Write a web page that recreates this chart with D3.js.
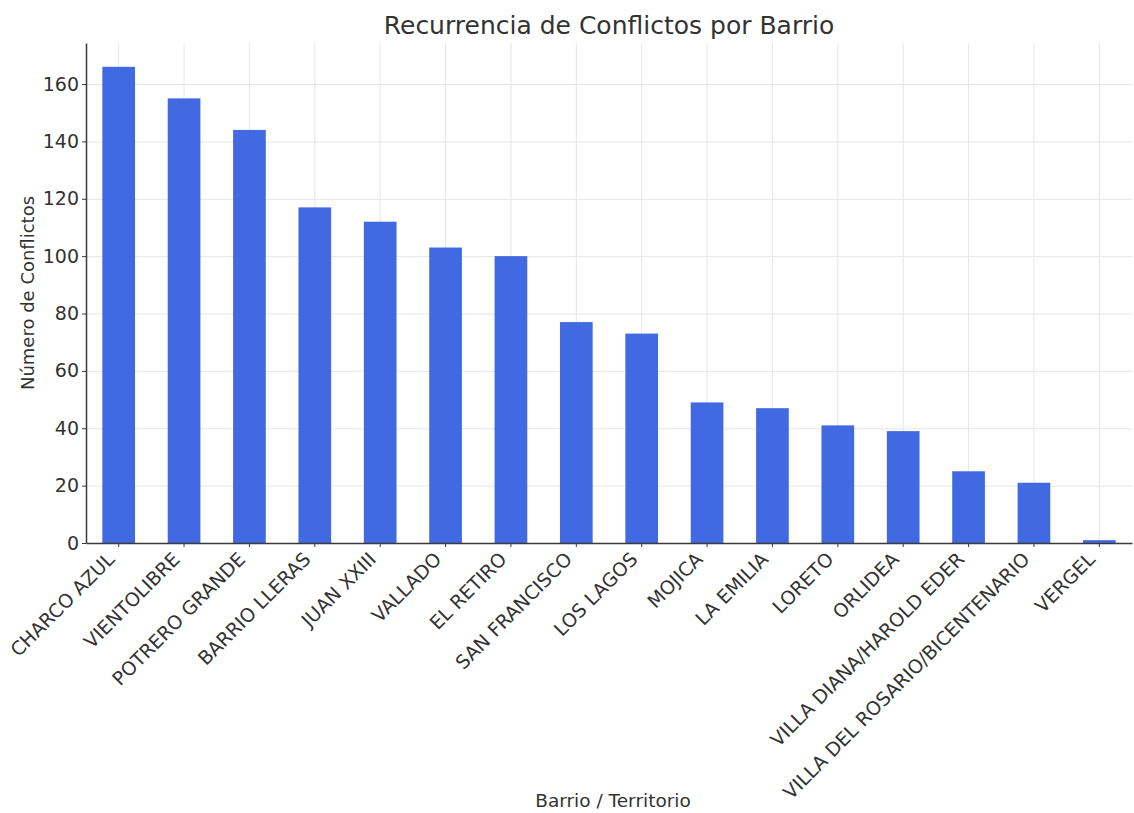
<!doctype html>
<meta charset="utf8">
<style>
  body { margin: 0; background: #fff; }
  svg text { font-family: "DejaVu Sans", sans-serif; fill: #333; }
</style>

<body>
<div id="chart"></div>

<script src="https://d3js.org/d3.v7.min.js"></script>

<script>
(function() {

const BARRIOS = [
  "CHARCO AZUL", "VIENTOLIBRE", "POTRERO GRANDE", "BARRIO LLERAS", "JUAN XXIII",
  "VALLADO", "EL RETIRO", "SAN FRANCISCO", "LOS LAGOS", "MOJICA", "LA EMILIA",
  "LORETO", "ORLIDEA", "VILLA DIANA/HAROLD EDER", "VILLA DEL ROSARIO/BICENTENARIO", "VERGEL",
];
const CONFLICTOS = [166, 155, 144, 117, 112, 103, 100, 77, 73, 49, 47, 41, 39, 25, 21, 1];
const Y_TICKS = [0, 20, 40, 60, 80, 100, 120, 140, 160];

const TITLE = "Recurrencia de Conflictos por Barrio";
const X_LABEL = "Barrio / Territorio";
const Y_LABEL = "Número de Conflictos";

const WIDTH = 1134;
const HEIGHT = 813;
const margin = {top: 43, right: 2, bottom: 270, left: 86};
const BAR_COLOR = "#4169e1";
const GRID_COLOR = "#e6e6e6";
const SPINE_COLOR = "#3a3a3a";

const svg = d3.select("#chart").append("svg")
  .attr("width", WIDTH)
  .attr("height", HEIGHT);

const x0 = margin.left;
const x1 = WIDTH - margin.right;
const y0 = HEIGHT - margin.bottom;
const y1 = margin.top;

const x = d3.scaleBand()
  .domain(BARRIOS)
  .range([x0, x1])
  .paddingInner(0.5)
  .paddingOuter(0.25);

const y = d3.scaleLinear()
  .domain([0, d3.max(CONFLICTOS) * 1.05])
  .range([y0, y1]);

// grid, under the bars
svg.append("g")
  .attr("class", "grid")
  .attr("transform", `translate(${x0},0)`)
  .call(d3.axisLeft(y).tickValues(Y_TICKS).tickSize(-(x1 - x0)).tickFormat(""))
  .call(g => g.select(".domain").remove())
  .call(g => g.selectAll("line").attr("stroke", GRID_COLOR).attr("stroke-width", 1));

svg.append("g")
  .attr("class", "grid")
  .attr("transform", `translate(0,${y0})`)
  .call(d3.axisBottom(x).tickSize(-(y0 - y1)).tickFormat(""))
  .call(g => g.select(".domain").remove())
  .call(g => g.selectAll("line").attr("stroke", GRID_COLOR).attr("stroke-width", 1));

svg.append("g")
  .selectAll("rect")
  .data(BARRIOS)
  .join("rect")
    .attr("x", d => x(d))
    .attr("width", x.bandwidth())
    .attr("y", (d, i) => y(CONFLICTOS[i]))
    .attr("height", (d, i) => y0 - y(CONFLICTOS[i]))
    .attr("fill", BAR_COLOR);

// axes
const yAxis = svg.append("g")
  .attr("transform", `translate(${x0},0)`)
  .call(d3.axisLeft(y).tickValues(Y_TICKS).tickSize(4).tickPadding(3).tickSizeOuter(0));
yAxis.select(".domain").attr("stroke", SPINE_COLOR).attr("stroke-width", 1.5);
yAxis.selectAll(".tick line").attr("stroke", SPINE_COLOR);
yAxis.selectAll(".tick text").attr("font-size", 19).style("fill", "#333");

const xAxis = svg.append("g")
  .attr("transform", `translate(0,${y0})`)
  .call(d3.axisBottom(x).tickSize(4).tickSizeOuter(0));
xAxis.select(".domain").attr("stroke", SPINE_COLOR).attr("stroke-width", 1.5);
xAxis.selectAll(".tick line").attr("stroke", SPINE_COLOR);
xAxis.selectAll(".tick text")
  .attr("font-size", 19)
  .attr("text-anchor", "end")
  .attr("x", 0)
  .attr("y", 0)
  .attr("dy", 0)
  .attr("transform", "translate(-3,17.5) rotate(-45)")
  .style("fill", "#333");

svg.append("text")
  .attr("x", (x0 + x1) / 2)
  .attr("y", 34)
  .attr("text-anchor", "middle")
  .attr("font-size", 25)
  .text(TITLE);

svg.append("text")
  .attr("x", (x0 + x1) / 2 + 4)
  .attr("y", 807)
  .attr("text-anchor", "middle")
  .attr("font-size", 18.5)
  .text(X_LABEL);

svg.append("text")
  .attr("transform", `translate(34,${(y0 + y1) / 2}) rotate(-90)`)
  .attr("text-anchor", "middle")
  .attr("font-size", 18)
  .text(Y_LABEL);

})();
</script>
